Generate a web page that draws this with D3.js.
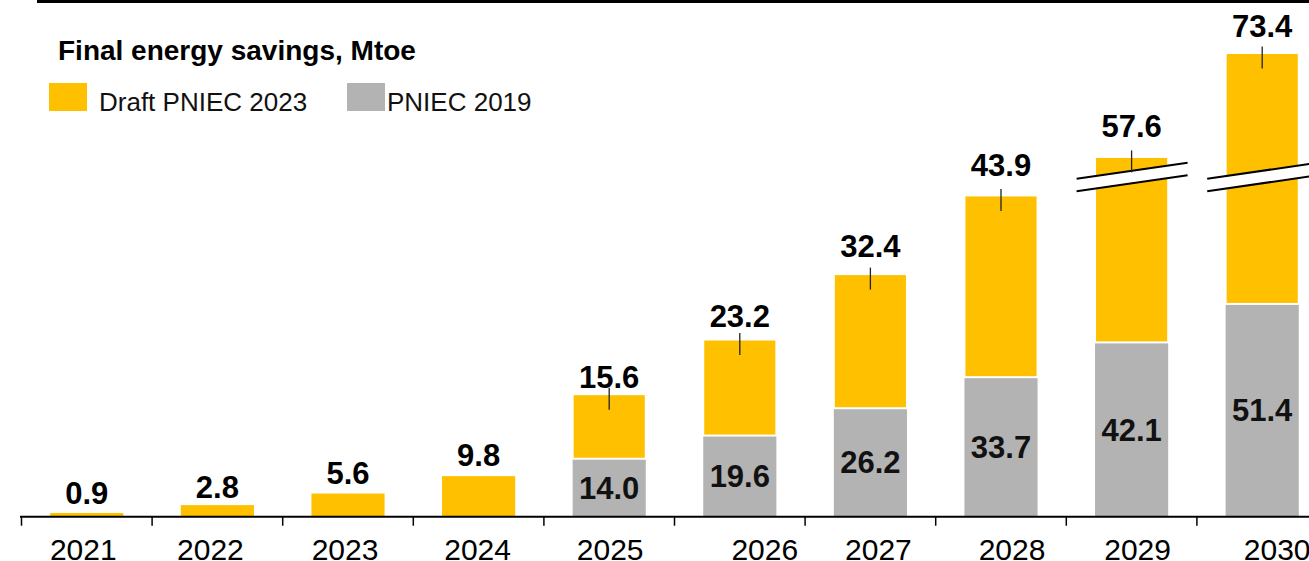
<!DOCTYPE html>
<html>
<head>
<meta charset="utf-8">
<script src="https://cdn.jsdelivr.net/npm/d3@7"></script>
<style>
  html, body { margin: 0; padding: 0; background: #fff; }
  svg { display: block; font-family: "Liberation Sans", Arial, sans-serif; }
</style>
</head>
<body>
<svg id="chart" width="1309" height="561"></svg>
<script>
// Final energy savings (Mtoe) by year
const years = ["2021", "2022", "2023", "2024", "2025", "2026", "2027", "2028", "2029", "2030"];
// Draft PNIEC 2023 figures (stacked above the PNIEC 2019 figures where those exist)
const draft2023 = [0.9, 2.8, 5.6, 9.8, 15.6, 23.2, 32.4, 43.9, 57.6, 73.4];
// PNIEC 2019 figures
const pniec2019 = [null, null, null, null, 14.0, 19.6, 26.2, 33.7, 42.1, 51.4];

const seriesNames = ["Draft PNIEC 2023", "PNIEC 2019"];
const chartTitle = "Final energy savings, Mtoe";

// Value range removed by the axis break
const breakFrom = 82, breakTo = 94.8;

// Layout
const W = 1309, H = 561;
const baseY = 516.7;
const pxPerUnit = 4.14;
const colors = { draft: "#FFC000", old: "#B3B3B3" };
// small horizontal nudges of the year captions
const yearLabelDx = [-3.5, -7, -3, -1, 1, 25, 8, 11, 6, 15];
// distance of each total label's baseline above its bar top
const totalLabelLift = [9, 7, 10, 10, 6, 13, 17, 19, 20, 16];

const svg = d3.select("#chart");

const rows = years.map((yr, i) => ({
  year: yr,
  draft: draft2023[i],
  old: pniec2019[i] == null ? 0 : pniec2019[i],
  hasOld: pniec2019[i] != null,
  i
}));
rows.forEach(r => { r.total = r.old + r.draft; });

const x = d3.scaleBand()
  .domain(years)
  .range([21.5, 21.5 + 130.6 * years.length])
  .paddingInner(0.44)
  .paddingOuter(0.22);

const yTop = baseY - (130 - (breakTo - breakFrom)) * pxPerUnit;
const yBreak = baseY - breakFrom * pxPerUnit;
const y = d3.scaleLinear()
  .domain([0, breakFrom, breakTo, 130])
  .range([baseY, yBreak, yBreak, yTop]);

const bw = x.bandwidth();
const step = x.step();

// Top rule
svg.append("rect")
  .attr("x", 37).attr("y", 0)
  .attr("width", W - 37).attr("height", 3)
  .attr("fill", "#000");

// Title
svg.append("text")
  .attr("x", 58).attr("y", 60)
  .attr("font-size", 28).attr("font-weight", "bold")
  .attr("fill", "#000")
  .text(chartTitle);

// Legend
const legend = [
  { name: seriesNames[0], color: colors.draft, x: 49, tx: 99 },
  { name: seriesNames[1], color: colors.old, x: 347, tx: 387 }
];
const lg = svg.append("g");
lg.selectAll("rect").data(legend).join("rect")
  .attr("x", d => d.x).attr("y", 83)
  .attr("width", 38).attr("height", 28)
  .attr("fill", d => d.color);
lg.selectAll("text").data(legend).join("text")
  .attr("x", d => d.tx).attr("y", 111)
  .attr("font-size", 26)
  .attr("fill", "#111")
  .text(d => d.name);

// Bars
const bars = svg.append("g");
bars.selectAll("rect.old").data(rows.filter(r => r.hasOld)).join("rect")
  .attr("class", "old")
  .attr("x", d => x(d.year))
  .attr("y", d => y(d.old))
  .attr("width", bw)
  .attr("height", d => y(0) - y(d.old))
  .attr("fill", colors.old);

bars.selectAll("rect.draft").data(rows).join("rect")
  .attr("class", "draft")
  .attr("x", d => x(d.year))
  .attr("y", d => y(d.total))
  .attr("width", bw)
  .attr("height", d => y(d.old) - y(d.total))
  .attr("fill", colors.draft)
  .attr("stroke", "#fff")
  .attr("stroke-width", d => d.hasOld ? 2 : 0);

// Axis breaks on bars that run past the removed range
const brk = svg.append("g");
rows.filter(r => r.total > breakTo).forEach(r => {
  const cx = x(r.year) + bw / 2;
  const yc = y(breakFrom);
  const x0 = cx - 55, x1 = cx + 56;
  const up0 = yc + 1.5, up1 = yc - 14.5;
  const gap = 12.5;
  brk.append("path")
    .attr("d", `M${x0},${up0} L${x1},${up1} L${x1},${up1 + gap} L${x0},${up0 + gap} Z`)
    .attr("fill", "#fff");
  brk.append("line")
    .attr("x1", x0).attr("y1", up0).attr("x2", x1).attr("y2", up1)
    .attr("stroke", "#000").attr("stroke-width", 2);
  brk.append("line")
    .attr("x1", x0).attr("y1", up0 + gap).attr("x2", x1).attr("y2", up1 + gap)
    .attr("stroke", "#000").attr("stroke-width", 2);
});

// Leader ticks on stacked totals
svg.append("g").selectAll("line").data(rows.filter(r => r.hasOld)).join("line")
  .attr("x1", d => x(d.year) + bw / 2).attr("x2", d => x(d.year) + bw / 2)
  .attr("y1", d => y(d.total) - 6.5).attr("y2", d => y(d.total) + 15.5)
  .attr("stroke", "#222").attr("stroke-width", 1.3);

// Total labels
svg.append("g").selectAll("text").data(rows).join("text")
  .attr("x", d => x(d.year) + bw / 2)
  .attr("y", d => y(d.total) - totalLabelLift[d.i])
  .attr("text-anchor", "middle")
  .attr("font-size", 31).attr("font-weight", "bold")
  .attr("fill", "#000")
  .text(d => d3.format(".1f")(d.draft));

// PNIEC 2019 labels inside grey bars
svg.append("g").selectAll("text").data(rows.filter(r => r.hasOld)).join("text")
  .attr("x", d => x(d.year) + bw / 2)
  .attr("y", d => (y(0) + y(d.old)) / 2 + 11)
  .attr("text-anchor", "middle")
  .attr("font-size", 31).attr("font-weight", "bold")
  .attr("fill", "#111")
  .text(d => d3.format(".1f")(d.old));

// X axis
const ax = svg.append("g");
ax.append("line")
  .attr("x1", 20).attr("x2", W)
  .attr("y1", baseY).attr("y2", baseY)
  .attr("stroke", "#000").attr("stroke-width", 2);
ax.selectAll("line.tick").data(years).join("line")
  .attr("class", "tick")
  .attr("x1", d => x(d) + bw / 2 - step / 2)
  .attr("x2", d => x(d) + bw / 2 - step / 2)
  .attr("y1", baseY).attr("y2", baseY + 9)
  .attr("stroke", "#000").attr("stroke-width", 1.5);
ax.selectAll("text").data(years).join("text")
  .attr("x", (d, i) => x(d) + bw / 2 + yearLabelDx[i])
  .attr("y", 559.5)
  .attr("text-anchor", "middle")
  .attr("font-size", 30)
  .attr("fill", "#000")
  .text(d => d);
</script>
</body>
</html>
